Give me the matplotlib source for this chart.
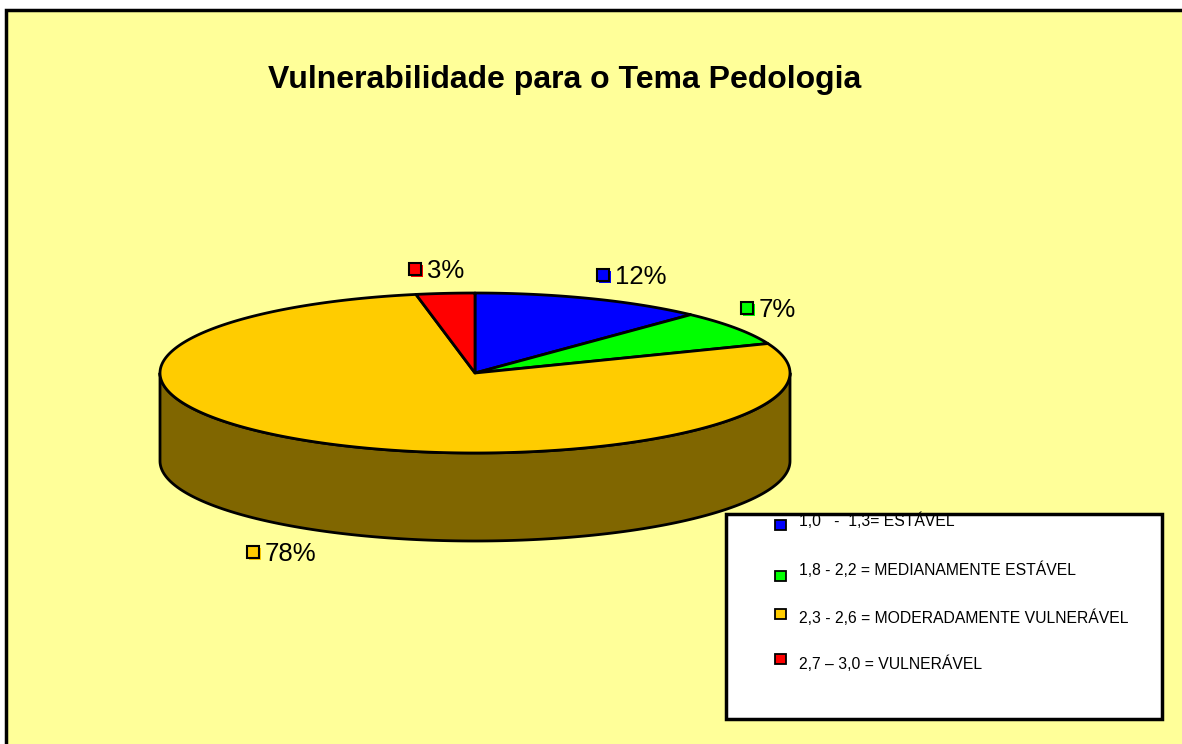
import numpy as np
import matplotlib
matplotlib.use("Agg")
import matplotlib.pyplot as plt
from matplotlib.patches import Polygon, Rectangle

plt.rcParams['font.family'] = ['Liberation Sans', 'DejaVu Sans']

title = "Vulnerabilidade para o Tema Pedologia"
categories = ["1,0   -  1,3= ESTÁVEL",
              "1,8 - 2,2 = MEDIANAMENTE ESTÁVEL",
              "2,3 - 2,6 = MODERADAMENTE VULNERÁVEL",
              "2,7 – 3,0 = VULNERÁVEL"]
values = [12, 7, 78, 3]
colors = ["#0000FF", "#00FF00", "#FFCC00", "#FF0000"]
side_colors = ["#000080", "#008000", "#806600", "#800000"]

W, H = 1182, 744
fig = plt.figure(figsize=(W / 100, H / 100), dpi=100)
fig.patch.set_facecolor("white")
ax = fig.add_axes([0, 0, 1, 1])
ax.set_xlim(0, W)
ax.set_ylim(H, 0)
ax.axis("off")

# chart area frame
ax.add_patch(Rectangle((6, 10), W + 20, H + 20, facecolor="#FFFF99",
                       edgecolor="black", lw=2.5, zorder=0))

# title
ax.text(565, 80, title, ha="center", va="center", fontsize=23,
        fontweight="bold", color="black")

# pie geometry
cx, cy, a, b, depth = 475, 373, 315, 80, 88


def pt(theta_deg, dy=0.0):
    t = np.radians(theta_deg)
    return cx + a * np.sin(t), cy - b * np.cos(t) + dy


total = float(sum(values))
cum = np.concatenate([[0], np.cumsum(values)]) / total * 360.0

# side walls (front half: 90..270 deg clockwise from top)
for i in range(len(values)):
    s, e = max(cum[i], 90), min(cum[i + 1], 270)
    if e <= s:
        continue
    th = np.linspace(s, e, 200)
    top = [pt(t) for t in th]
    bot = [pt(t, depth) for t in th[::-1]]
    ax.add_patch(Polygon(top + bot, closed=True, facecolor=side_colors[i],
                         edgecolor="black", lw=2, joinstyle="round", zorder=2))

# top faces
for i in range(len(values)):
    th = np.linspace(cum[i], cum[i + 1], 300)
    verts = [(cx, cy)] + [pt(t) for t in th]
    ax.add_patch(Polygon(verts, closed=True, facecolor=colors[i],
                         edgecolor="black", lw=2, joinstyle="round", zorder=3))

# data labels (blue, green, yellow, red)
label_pos = [(603, 275), (747, 308), (253, 552), (415, 269)]
for i, (lx, ly) in enumerate(label_pos):
    ax.add_patch(Rectangle((lx - 6 + 1.5, ly - 6 + 1.5), 12, 12,
                           facecolor=colors[i], edgecolor="none", zorder=4))
    ax.add_patch(Rectangle((lx - 6, ly - 6), 12, 12, facecolor=colors[i],
                           edgecolor="black", lw=1.5, zorder=5))
    pct = f"{values[i] / total * 100:.0f}%"
    ax.text(lx + 12, ly + 2, pct, ha="left", va="center", fontsize=18.5,
            color="black", zorder=5)

# legend
ax.add_patch(Rectangle((726, 514), 436, 205, facecolor="white",
                       edgecolor="black", lw=2.5, zorder=4))
leg_marker_y = [525, 576, 614, 659]
leg_text_y = [521, 570, 618, 664]
for i, cat in enumerate(categories):
    ax.add_patch(Rectangle((775, leg_marker_y[i] - 5), 11, 10,
                           facecolor=colors[i], edgecolor="black", lw=1.3,
                           zorder=5))
    ax.text(799, leg_text_y[i], cat, ha="left", va="center", fontsize=11.3,
            color="black", zorder=5)

fig.savefig("out.png", dpi=100, facecolor=fig.get_facecolor())
